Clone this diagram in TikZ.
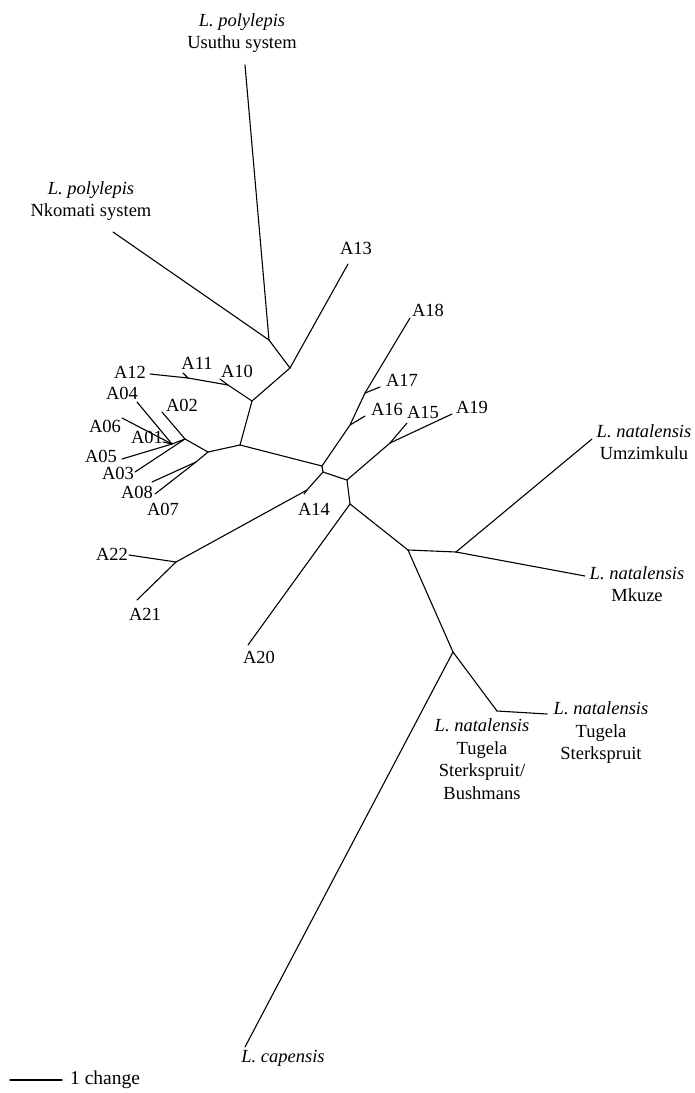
\documentclass[tikz,border=0pt]{standalone}
\usepackage{fontspec}
\setmainfont{Liberation Serif}
\begin{document}
\begin{tikzpicture}[x=1pt,y=-1pt,
  br/.style={line width=1.1pt, line cap=round, line join=round},
  lab/.style={font=\fontsize{18.5}{22.5}\selectfont, inner sep=0pt, align=center},
  scl/.style={font=\fontsize{19.5}{23}\selectfont, inner sep=0pt}]
\useasboundingbox (0,0) rectangle (694,1093);
% internal nodes
\coordinate (n1) at (269,340);
\coordinate (n2) at (290,368);
\coordinate (n3) at (252,401);
\coordinate (q) at (228,385);
\coordinate (r) at (188,378);
\coordinate (n4) at (240,445);
\coordinate (n5) at (208,452);
\coordinate (n6) at (185,439);
\coordinate (n8) at (172,444);
\coordinate (n7) at (196,462);
\coordinate (c1) at (322,466);
\coordinate (d1) at (350,425);
\coordinate (d2) at (365,393);
\coordinate (c2) at (323,472);
\coordinate (a14n) at (307,490);
\coordinate (e1) at (176,562);
\coordinate (c3) at (347,480);
\coordinate (f1) at (390,443);
\coordinate (c4) at (350,504);
\coordinate (g1) at (408,550);
\coordinate (h1) at (456,552);
\coordinate (k1) at (453,652);
\coordinate (tl) at (497,711);
% leaf ends
\coordinate (usuE) at (245,65);
\coordinate (nkoE) at (113,232);
\coordinate (a13E) at (348,264);
\coordinate (a18E) at (410,318);
\coordinate (a17E) at (380,387);
\coordinate (a16E) at (365,416);
\coordinate (a15E) at (407,423);
\coordinate (a19E) at (452,414);
\coordinate (a12E) at (150,374);
\coordinate (a11E) at (183,373);
\coordinate (a10E) at (220,379);
\coordinate (a04E) at (137,402);
\coordinate (a02E) at (162,412);
\coordinate (a06E) at (122,418);
\coordinate (a01E) at (163,442);
\coordinate (a05E) at (122,459);
\coordinate (a03E) at (135,472);
\coordinate (a08E) at (152,482);
\coordinate (a07E) at (155,494);
\coordinate (a14E) at (304,494);
\coordinate (a22E) at (129,555);
\coordinate (a21E) at (137,600);
\coordinate (a20E) at (248,645);
\coordinate (umzE) at (592,439);
\coordinate (mkuE) at (585,576);
\coordinate (tugE) at (547,714);
\coordinate (capE) at (245,1047);
\coordinate (sc1) at (10,1080);
\coordinate (sc2) at (62,1080);
% branches
\draw[br] (usuE) -- (n1);
\draw[br] (nkoE) -- (n1);
\draw[br] (n1) -- (n2);
\draw[br] (a13E) -- (n2);
\draw[br] (n2) -- (n3);
\draw[br] (n3) -- (q);
\draw[br] (q) -- (a10E);
\draw[br] (q) -- (r);
\draw[br] (r) -- (a11E);
\draw[br] (r) -- (a12E);
\draw[br] (n3) -- (n4);
\draw[br] (n4) -- (n5);
\draw[br] (n5) -- (n6);
\draw[br] (n6) -- (a02E);
\draw[br] (n6) -- (a03E);
\draw[br] (n6) -- (n8);
\draw[br] (n8) -- (a04E);
\draw[br] (n8) -- (a06E);
\draw[br] (n8) -- (a01E);
\draw[br] (n8) -- (a05E);
\draw[br] (n5) -- (n7);
\draw[br] (n7) -- (a08E);
\draw[br] (n7) -- (a07E);
\draw[br] (n4) -- (c1);
\draw[br] (c1) -- (d1);
\draw[br] (d1) -- (a16E);
\draw[br] (d1) -- (d2);
\draw[br] (d2) -- (a17E);
\draw[br] (d2) -- (a18E);
\draw[br] (c1) -- (c2);
\draw[br] (c2) -- (a14n);
\draw[br] (a14n) -- (a14E);
\draw[br] (a14n) -- (e1);
\draw[br] (e1) -- (a22E);
\draw[br] (e1) -- (a21E);
\draw[br] (c2) -- (c3);
\draw[br] (c3) -- (f1);
\draw[br] (f1) -- (a15E);
\draw[br] (f1) -- (a19E);
\draw[br] (c3) -- (c4);
\draw[br] (c4) -- (a20E);
\draw[br] (c4) -- (g1);
\draw[br] (g1) -- (h1);
\draw[br] (h1) -- (umzE);
\draw[br] (h1) -- (mkuE);
\draw[br] (g1) -- (k1);
\draw[br] (k1) -- (tl);
\draw[br] (tl) -- (tugE);
\draw[br] (k1) -- (capE);
\draw[br] (sc1) -- (sc2);
% labels
\node[lab] (usuL) at (242,33) {\textit{L. polylepis}\\Usuthu system};
\node[lab] (nkoL) at (91,201) {\textit{L. polylepis}\\Nkomati system};
\node[lab] (a13) at (356,248) {A13};
\node[lab] (a18) at (428,310) {A18};
\node[lab] (a17) at (402,380) {A17};
\node[lab] (a16) at (387,409) {A16};
\node[lab] (a15) at (423,412) {A15};
\node[lab] (a19) at (472,407) {A19};
\node[lab] (a12) at (130,372) {A12};
\node[lab] (a11) at (197,363) {A11};
\node[lab] (a10) at (237,371) {A10};
\node[lab] (a04) at (122,393) {A04};
\node[lab] (a02) at (182,405) {A02};
\node[lab] (a06) at (105,426) {A06};
\node[lab] (a01) at (147,437) {A01};
\node[lab] (a05) at (101,456) {A05};
\node[lab] (a03) at (118,473) {A03};
\node[lab] (a08) at (137,492) {A08};
\node[lab] (a07) at (163,509) {A07};
\node[lab] (a14) at (314,509) {A14};
\node[lab] (a22) at (112,554) {A22};
\node[lab] (a21) at (145,614) {A21};
\node[lab] (a20) at (259,657) {A20};
\node[lab] (umzL) at (644,442) {\textit{L. natalensis}\\Umzimkulu};
\node[lab] (mkuL) at (637,584) {\textit{L. natalensis}\\Mkuze};
\node[lab] (tugRL) at (601,733) {\textit{L. natalensis}\\Tugela\\Sterkspruit};
\node[lab] (tugLL) at (482,759) {\textit{L. natalensis}\\Tugela\\Sterkspruit/\\Bushmans};
\node[lab] (capL) at (283,1058) {\textit{L. capensis}};
\node[scl, anchor=west] (scT) at (70,1080) {1 change};
\end{tikzpicture}
\end{document}
